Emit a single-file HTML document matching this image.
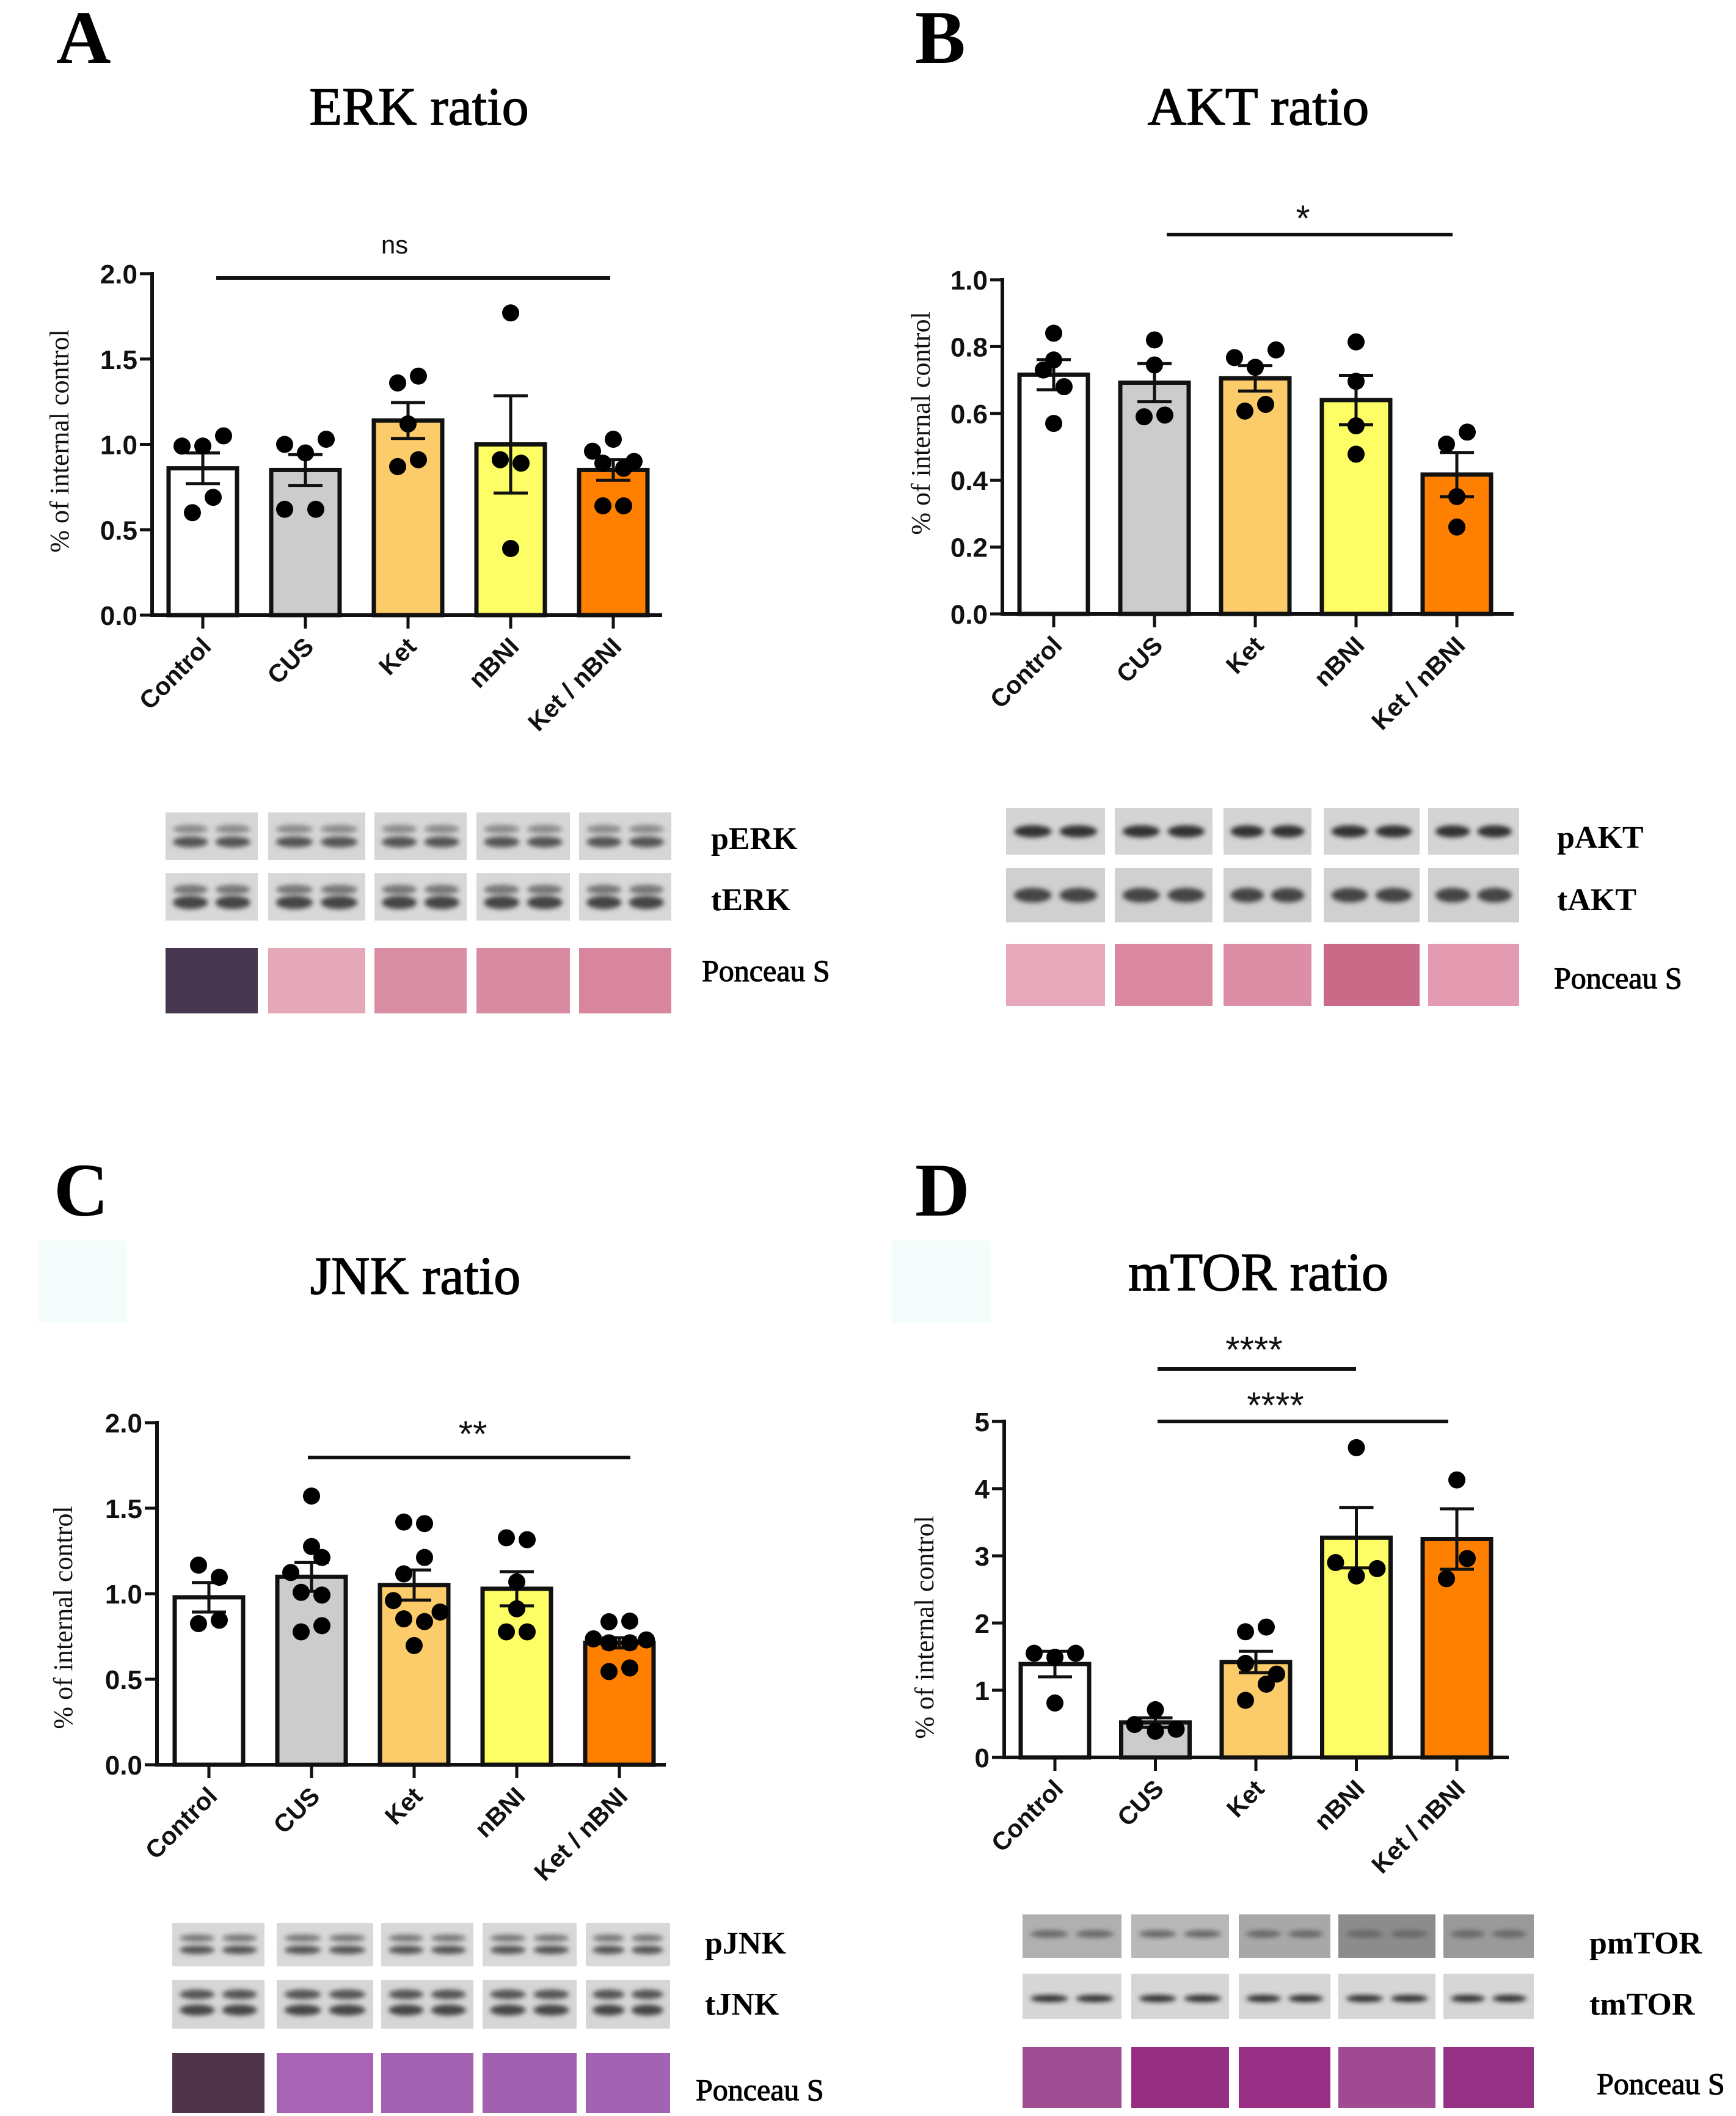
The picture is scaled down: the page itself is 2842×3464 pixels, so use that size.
<!DOCTYPE html>
<html><head><meta charset="utf-8"><style>
html,body{margin:0;padding:0;background:#fff}
svg{display:block}
.serif{font-family:"Liberation Serif",serif}
.sans{font-family:"Liberation Sans",sans-serif}
</style></head><body>
<svg id="fig" width="2842" height="3464" viewBox="0 0 2842 3464" xmlns="http://www.w3.org/2000/svg">
<defs><filter id="blur" x="-20%" y="-50%" width="140%" height="200%"><feGaussianBlur stdDeviation="4"/></filter></defs>
<rect width="2842" height="3464" fill="#fff"/>
<rect x="62" y="2031" width="144" height="134" fill="#f3fbfb"/>
<rect x="1461" y="2031" width="160" height="134" fill="#f3fbfb"/>
<g id="layer"></g>
</svg>
<script>
// ---------- data ----------
const categories = ["Control","CUS","Ket","nBNI","Ket / nBNI"];
const barColors = ["#ffffff","#cccccc","#fdcc6a","#fdfd66","#ff8000"];

const erkMeans = [0.86, 0.85, 1.14, 1.00, 0.85];
const erkSem = [0.09, 0.09, 0.105, 0.285, 0.06];
const erkPoints = [[0.99,0.99,1.05,0.69,0.60],[1.00,0.95,1.03,0.62,0.62],[1.36,1.40,1.12,0.87,0.91],[1.77,0.91,0.89,0.39],[0.96,1.03,0.90,0.89,0.86,0.64,0.64]];
const erkTicks = [0,0.5,1.0,1.5,2.0];
const erkTickLabels = ["0.0","0.5","1.0","1.5","2.0"];

const aktMeans = [0.716, 0.692, 0.705, 0.64, 0.417];
const aktSem = [0.045, 0.057, 0.038, 0.074, 0.066];
const aktPoints = [[0.84,0.76,0.73,0.68,0.57],[0.82,0.745,0.59,0.595],[0.767,0.79,0.738,0.627,0.607],[0.814,0.696,0.563,0.478],[0.508,0.544,0.351,0.26]];
const aktTicks = [0,0.2,0.4,0.6,0.8,1.0];
const aktTickLabels = ["0.0","0.2","0.4","0.6","0.8","1.0"];

const jnkMeans = [0.979, 1.099, 1.051, 1.029, 0.713];
const jnkSem = [0.086, 0.085, 0.088, 0.10, 0.03];
const jnkPoints = [[1.167,1.096,0.825,0.845],[1.571,1.276,1.212,1.124,1.008,0.992,0.777,0.813],[1.419,1.41,1.212,1.116,0.96,0.893,0.853,0.837,0.697],[1.327,1.316,1.069,0.912,0.777,0.777],[0.836,0.84,0.736,0.713,0.713,0.73,0.545,0.566]];
const jnkTicks = [0,0.5,1.0,1.5,2.0];
const jnkTickLabels = ["0.0","0.5","1.0","1.5","2.0"];

const mtorMeans = [1.39, 0.52, 1.42, 3.27, 3.25];
const mtorSem = [0.19, 0.07, 0.16, 0.45, 0.45];
const mtorPoints = [[1.55,1.49,1.55,0.81],[0.49,0.71,0.39,0.42],[1.87,1.94,1.40,1.24,1.09,0.85],[4.61,2.90,2.70,2.81],[4.13,2.96,2.66]];
const mtorTicks = [0,1,2,3,4,5];
const mtorTickLabels = ["0","1","2","3","4","5"];

// jitter in dot units (layout, not data)
const erkJit = [[-2,0,2,1,-1],[-2,0,2,-2,1],[-1,1,0,-1,1],[0,-1,1,0],[-2,0,2,-1,1,-1,1]];
const aktJit = [[0,0,-1,1,0],[0,0,-1,1],[-2,2,0,1,-1],[0,0,0,0],[-1,1,0,0]];
const jnkJit = [[-1,1,-1,1],[0,0,1,-2,-1,1,-1,1],[-1,1,1,-1,-2,2.5,-1,1,0],[-1,1,0,0,-1,1],[-1,1,-2.5,-1,1,2.6,-1,1]];
const mtorJit = [[-2,0,2,0],[-2,0,0,2],[-1,1,-1,2,1,-1],[0,-2,0,2],[0,1,-1]];

const NS="http://www.w3.org/2000/svg";
const layer=document.getElementById('layer');
function mk(tag,attrs,parent){const e=document.createElementNS(NS,tag);for(const k in attrs)e.setAttribute(k,attrs[k]);(parent||layer).appendChild(e);return e;}
function txt(s,attrs,parent){const e=mk('text',attrs,parent);e.textContent=s;return e;}

function chart(cfg){
  const g=mk('g',{});
  
  
  const y=v=>cfg.y0-(v/cfg.yMax)*(cfg.y0-cfg.yTop);
  const cx=i=>cfg.c0+i*cfg.step;
  const ya=mk('line',{x1:cfg.ax,y1:cfg.yTop-3,x2:cfg.ax,y2:cfg.y0+3,stroke:'#111','stroke-width':6},g);
  
  
  const xa=mk('line',{x1:cfg.ax-3,y1:cfg.y0,x2:cfg.xEnd,y2:cfg.y0,stroke:'#111','stroke-width':6},g);
  
  
  cfg.ticks.forEach((t,i)=>{
    mk('line',{x1:cfg.ax-20,y1:y(t),x2:cfg.ax,y2:y(t),stroke:'#111','stroke-width':5},g);
    const tl=txt(cfg.tickLabels[i],{x:cfg.ax-24,y:y(t)+16,'text-anchor':'end','font-size':44,'font-weight':'bold',class:'sans',fill:'#111'},g);
    
    
  });
  const yt=txt('% of internal control',{x:0,y:0,'font-size':44,class:'serif','text-anchor':'middle',fill:'#111',transform:`translate(${cfg.ytX},${cfg.ytY}) rotate(-90)`},g);
  
  
  categories.forEach((c,i)=>{
    const x=cx(i);
    mk('line',{x1:x,y1:cfg.y0,x2:x,y2:cfg.y0+22,stroke:'#111','stroke-width':5},g);
    const b=mk('rect',{x:x-56,y:y(cfg.means[i]),width:112,height:cfg.y0-y(cfg.means[i]),fill:barColors[i],stroke:'#111','stroke-width':7},g);
    
    
    const lo=cfg.means[i]-cfg.sem[i], hi=cfg.means[i]+cfg.sem[i];
    const eb=mk('g',{stroke:'#111','stroke-width':5},g);
    
    
    mk('line',{x1:x,y1:y(hi),x2:x,y2:y(lo)},eb);
    mk('line',{x1:x-28,y1:y(hi),x2:x+28,y2:y(hi)},eb);
    mk('line',{x1:x-28,y1:y(lo),x2:x+28,y2:y(lo)},eb);
    cfg.points[i].forEach((v,j)=>{
      const d=mk('circle',{cx:x+cfg.jit[i][j]*17,cy:y(v),r:14,fill:'#000'},g);
      
      
    });
    const lb=txt(c,{x:0,y:0,'font-size':41,'font-weight':'bold',class:'sans','text-anchor':'end',fill:'#111',transform:`translate(${x+16},${cfg.y0+54}) rotate(-45)`},g);
    
    
  });
  cfg.sig.forEach(s=>{
    const l=mk('line',{x1:s.x1,y1:s.y,x2:s.x2,y2:s.y,stroke:'#111','stroke-width':6},g);
    
    
    const t=txt(s.t,{x:(s.tx||(s.x1+s.x2)/2),y:s.ty,'text-anchor':'middle','font-size':s.fs||44,class:'sans',fill:'#111'},g);
    
    
  });
}

chart({name:'erk-chart',ax:249,y0:1007,yTop:448,yMax:2,xEnd:1084,c0:332,step:168,means:erkMeans,sem:erkSem,points:erkPoints,jit:erkJit,ticks:erkTicks,tickLabels:erkTickLabels,ytX:112,ytY:722,
  sig:[{x1:354,x2:999,y:455,t:'ns',ty:415,tx:646,fs:42}]});
chart({name:'akt-chart',ax:1641,y0:1005,yTop:458,yMax:1,xEnd:2478,c0:1725,step:165,means:aktMeans,sem:aktSem,points:aktPoints,jit:aktJit,ticks:aktTicks,tickLabels:aktTickLabels,ytX:1522,ytY:693,
  sig:[{x1:1910,x2:2378,y:384,t:'*',ty:378,tx:2133,fs:60}]});
chart({name:'jnk-chart',ax:257,y0:2889,yTop:2329,yMax:2,xEnd:1090,c0:342,step:168,means:jnkMeans,sem:jnkSem,points:jnkPoints,jit:jnkJit,ticks:jnkTicks,tickLabels:jnkTickLabels,ytX:118,ytY:2648,
  sig:[{x1:504,x2:1032,y:2386,t:'**',ty:2368,tx:774,fs:60}]});
chart({name:'mtor-chart',ax:1644,y0:2877,yTop:2327,yMax:5,xEnd:2470,c0:1727,step:164.5,means:mtorMeans,sem:mtorSem,points:mtorPoints,jit:mtorJit,ticks:mtorTicks,tickLabels:mtorTickLabels,ytX:1528,ytY:2664,
  sig:[{x1:1895,x2:2220,y:2241,t:'****',ty:2230,tx:2053,fs:60},{x1:1895,x2:2371,y:2327,t:'****',ty:2321,tx:2088,fs:60}]});

[['A',92,103,'panel-letter-a'],['B',1498,103,'panel-letter-b'],['C',88,1990,'panel-letter-c'],['D',1498,1990,'panel-letter-d']].forEach(a=>{
  const t=txt(a[0],{x:a[1],y:a[2],'font-size':124,'font-weight':'bold',class:'serif',fill:'#000'});
  
  
});
[['ERK ratio',686,204,'title-erk'],['AKT ratio',2060,204,'title-akt'],['JNK ratio',680,2118,'title-jnk'],['mTOR ratio',2060,2112,'title-mtor']].forEach(a=>{
  const t=txt(a[0],{x:a[1],y:a[2],'font-size':88,class:'serif','text-anchor':'middle',fill:'#000',stroke:'#000','stroke-width':1.5});
  
  
});

function blots(name,cols,rows,labels){
  const g=mk('g',{});
  
  
  rows.forEach((r,ri)=>{
    cols.forEach((c,ci)=>{
      const fill=(r.fills&&r.fills[ci])||r.fill;
      mk('rect',{x:c[0],y:r.y,width:c[1]-c[0],height:r.h,fill:fill},g);
      if(r.bands){
        const w=c[1]-c[0];
        [0.27,0.73].forEach(f=>{
          r.bands.forEach(b=>{
            mk('ellipse',{cx:c[0]+w*f,cy:r.y+r.h*b[0],rx:w*0.19,ry:b[1],fill:b[2],filter:'url(#blur)'},g);
          });
        });
      }
    });
    const L=labels[ri];
    const t=txt(L.t,{x:L.x,y:L.y,'font-size':L.fs,'font-weight':L.b?'bold':'normal',class:'serif',fill:'#000',stroke:L.b?'none':'#000','stroke-width':L.b?0:1.2},g);
    
    
  });
}
blots('blots-erk',[[271,422],[439,598],[613,764],[780,933],[948,1099]],[
  {y:1330,h:78,fill:'#d6d6d6',bands:[[0.35,7,'#8a8a8a'],[0.62,9,'#555']]},
  {y:1429,h:78,fill:'#d8d8d8',bands:[[0.35,8,'#777'],[0.62,11,'#444']]},
  {y:1552,h:107,fill:'#d98ca2',fills:['#46364f','#e4a8b8','#da8ea4','#d88aa0','#d8869e']}],
  [{t:'pERK',x:1164,y:1390,fs:52,b:1},{t:'tERK',x:1164,y:1490,fs:52,b:1},{t:'Ponceau S',x:1149,y:1606,fs:50}]);
blots('blots-akt',[[1647,1809],[1825,1985],[2003,2147],[2167,2324],[2338,2487]],[
  {y:1323,h:76,fill:'#d4d4d4',bands:[[0.5,10,'#333']]},
  {y:1421,h:89,fill:'#d0d0d0',bands:[[0.5,12,'#444']]},
  {y:1545,h:102,fill:'#dc8ea6',fills:['#e8a8bc','#da88a0','#dc8ea6','#c86a88','#e49ab0']}],
  [{t:'pAKT',x:2549,y:1388,fs:52,b:1},{t:'tAKT',x:2549,y:1490,fs:52,b:1},{t:'Ponceau S',x:2544,y:1618,fs:50}]);
blots('blots-jnk',[[282,433],[453,611],[624,775],[790,944],[959,1097]],[
  {y:3148,h:71,fill:'#d8d8d8',bands:[[0.35,6,'#777'],[0.62,7,'#555']]},
  {y:3241,h:80,fill:'#d6d6d6',bands:[[0.3,8,'#555'],[0.62,9,'#444']]},
  {y:3361,h:98,fill:'#a462b2',fills:['#4e3448','#a864b4','#a462b2','#a060b0','#a462b4']}],
  [{t:'pJNK',x:1154,y:3198,fs:52,b:1},{t:'tJNK',x:1154,y:3298,fs:52,b:1},{t:'Ponceau S',x:1139,y:3438,fs:50}]);
blots('blots-mtor',[[1674,1836],[1852,2012],[2028,2178],[2191,2350],[2363,2511]],[
  {y:3134,h:71,fill:'#aaaaaa',fills:['#b0b0b0','#b8b8b8','#a8a8a8','#8c8c8c','#9a9a9a'],bands:[[0.45,6,'#666']]},
  {y:3231,h:74,fill:'#d6d6d6',bands:[[0.55,6,'#333']]},
  {y:3351,h:100,fill:'#9a3c8a',fills:['#a04c92','#962f82','#982f84','#a04a92','#963084']}],
  [{t:'pmTOR',x:2602,y:3198,fs:52,b:1},{t:'tmTOR',x:2602,y:3298,fs:52,b:1},{t:'Ponceau S',x:2614,y:3428,fs:50}]);
</script>
</body></html>
